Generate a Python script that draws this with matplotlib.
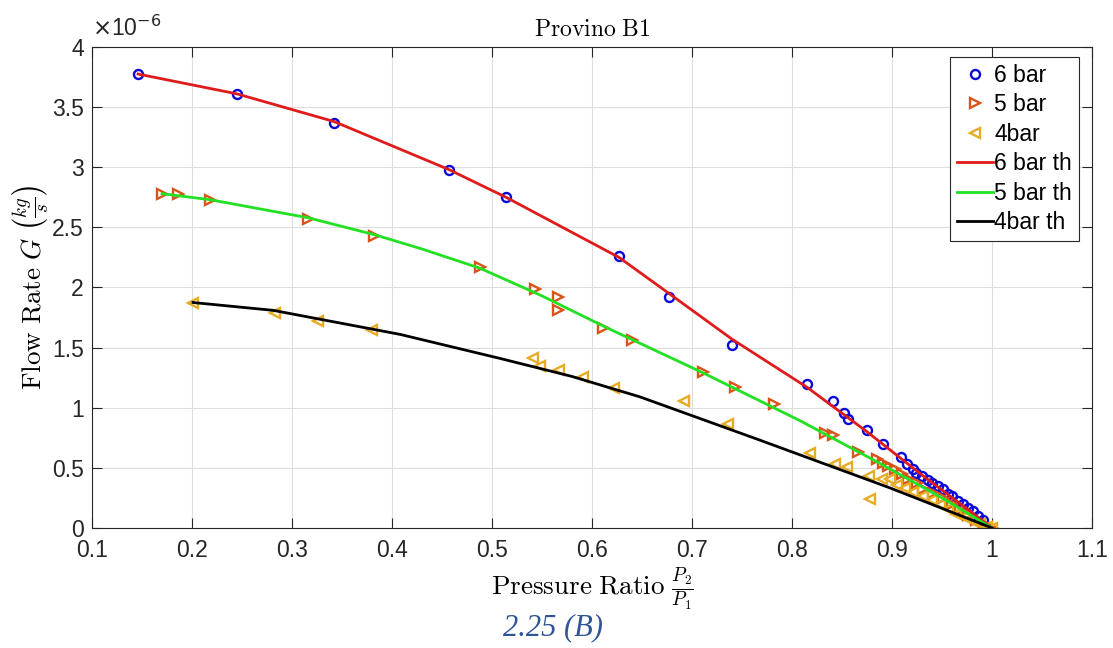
import matplotlib.pyplot as plt
from matplotlib.ticker import FuncFormatter

# measured flow rates, in units of 1e-6 kg/s
x_6bar = [0.146, 0.245, 0.342, 0.457, 0.514, 0.627, 0.677, 0.740, 0.815, 0.841,
          0.852, 0.856, 0.875, 0.891, 0.909, 0.915, 0.921, 0.924, 0.930, 0.936,
          0.940, 0.946, 0.951, 0.956, 0.960, 0.966, 0.971, 0.976, 0.981, 0.986,
          0.991, 0.994]
g_6bar = [3.775, 3.608, 3.367, 2.975, 2.75, 2.26, 1.92, 1.525, 1.20, 1.058,
          0.958, 0.908, 0.817, 0.70, 0.59, 0.53, 0.49, 0.46, 0.43, 0.40,
          0.375, 0.35, 0.325, 0.283, 0.267, 0.225, 0.20, 0.167, 0.142, 0.10,
          0.067, 0.0]

x_5bar = [0.170, 0.186, 0.218, 0.316, 0.382, 0.488, 0.543, 0.566, 0.566, 0.611,
          0.640, 0.711, 0.743, 0.782, 0.833, 0.841, 0.866, 0.885, 0.891, 0.896,
          0.903, 0.910, 0.916, 0.925, 0.931, 0.941, 0.951, 0.960, 0.968, 0.976,
          0.984, 0.992, 1.0]
g_5bar = [2.78, 2.78, 2.73, 2.57, 2.425, 2.167, 1.99, 1.92, 1.81, 1.667,
          1.567, 1.30, 1.175, 1.033, 0.79, 0.775, 0.633, 0.575, 0.54, 0.517,
          0.49, 0.45, 0.41, 0.37, 0.325, 0.29, 0.25, 0.20, 0.15, 0.11,
          0.07, 0.03, 0.0]

x_4bar = [0.201, 0.283, 0.326, 0.380, 0.541, 0.548, 0.567, 0.591, 0.622, 0.692,
          0.736, 0.818, 0.843, 0.855, 0.877, 0.878, 0.890, 0.898, 0.905, 0.913,
          0.921, 0.931, 0.940, 0.948, 0.956, 0.964, 0.972, 0.980, 0.988, 0.995,
          1.0]
g_4bar = [1.875, 1.79, 1.725, 1.65, 1.417, 1.35, 1.317, 1.258, 1.167, 1.058,
          0.867, 0.625, 0.533, 0.508, 0.433, 0.242, 0.408, 0.408, 0.36, 0.33,
          0.30, 0.27, 0.23, 0.20, 0.16, 0.12, 0.09, 0.06, 0.03, 0.01,
          0.0]

# theoretical curves
x_6th = [0.146, 0.245, 0.342, 0.457, 0.514, 0.627, 0.677, 0.740, 0.815, 0.875, 0.930, 0.970, 1.0]
g_6th = [3.775, 3.61, 3.38, 2.98, 2.75, 2.25, 1.95, 1.57, 1.17, 0.80, 0.44, 0.19, 0.0]
x_5th = [0.170, 0.218, 0.316, 0.382, 0.430, 0.488, 0.550, 0.611, 0.711, 0.808, 0.885, 0.95, 1.0]
g_5th = [2.78, 2.73, 2.58, 2.44, 2.32, 2.16, 1.93, 1.68, 1.29, 0.892, 0.55, 0.25, 0.0]
x_4th = [0.201, 0.281, 0.408, 0.508, 0.580, 0.648, 0.768, 0.898, 1.0]
g_4th = [1.875, 1.81, 1.61, 1.41, 1.26, 1.09, 0.73, 0.333, 0.0]

x_ticks = [0.1, 0.2, 0.3, 0.4, 0.5, 0.6, 0.7, 0.8, 0.9, 1.0, 1.1]
y_ticks = [0, 0.5, 1, 1.5, 2, 2.5, 3, 3.5, 4]

plt.rcParams["font.family"] = ["Liberation Sans", "DejaVu Sans"]
plt.rcParams["mathtext.fontset"] = "cm"

fig = plt.figure(figsize=(11.13, 6.48), dpi=100)
ax = fig.add_axes([0.0827, 0.1852, 0.8985, 0.7423])

mk = dict(linestyle="none", markerfacecolor="none", markeredgewidth=1.7)
ax.plot(x_6bar, g_6bar, marker="o", markersize=6.5, color="#0a0ad8", label="6 bar", **mk)
ax.plot(x_5bar, g_5bar, marker=">", markersize=7.5, color="#d9541a", label="5 bar", **mk)
ax.plot(x_4bar, g_4bar, marker="<", markersize=7.5, color="#e6ac24", label="4bar", **mk)
ax.plot(x_6th, g_6th, color="#e01b1b", lw=2, label="6 bar th")
ax.plot(x_5th, g_5th, color="#22e022", lw=2, label="5 bar th")
ax.plot(x_4th, g_4th, color="black", lw=2, label="4bar th")

ax.set_xlim(0.1, 1.1)
ax.set_ylim(0, 4)
ax.set_xticks(x_ticks)
ax.set_yticks(y_ticks)
fmt = FuncFormatter(lambda v, p: f"{v:g}")
ax.xaxis.set_major_formatter(fmt)
ax.yaxis.set_major_formatter(fmt)
ax.tick_params(direction="in", top=True, right=True, length=7, width=0.8,
               labelsize=16.5, colors="#262626")
ax.tick_params(axis="x", pad=8)
ax.tick_params(axis="y", pad=6)
ax.grid(True, color="#dedede", lw=0.8)
ax.set_axisbelow(True)
for s in ax.spines.values():
    s.set_color("#262626")
    s.set_linewidth(0.8)

ax.text(0.0, 1.012, r"$\times$10$^{-6}$", transform=ax.transAxes, fontsize=16.5,
        color="#262626", ha="left", va="bottom", math_fontfamily="dejavusans")

ax.set_title(r"$\mathrm{Provino\ B1}$", fontsize=17, pad=8)
ax.set_xlabel(r"$\mathrm{Pressure\ Ratio}\ \frac{P_2}{P_1}$", fontsize=19.5, labelpad=2)
ax.set_ylabel(r"$\mathrm{Flow\ Rate}\ G\ \left(\frac{kg}{s}\right)$", fontsize=19.5, labelpad=1)

leg = ax.legend(loc="upper right", bbox_to_anchor=(0.987, 0.979), borderaxespad=0,
                fontsize=16.5, handlelength=1.6, handletextpad=0.05, labelspacing=0.28,
                fancybox=False, framealpha=1, edgecolor="#262626", borderpad=0.3)
leg.get_frame().set_linewidth(0.8)

fig.text(0.497, 0.032, "2.25 (B)", fontsize=22, style="italic", color="#2f5597",
         family="Liberation Serif", ha="center", va="center")

fig.savefig("out.png", dpi=100)
